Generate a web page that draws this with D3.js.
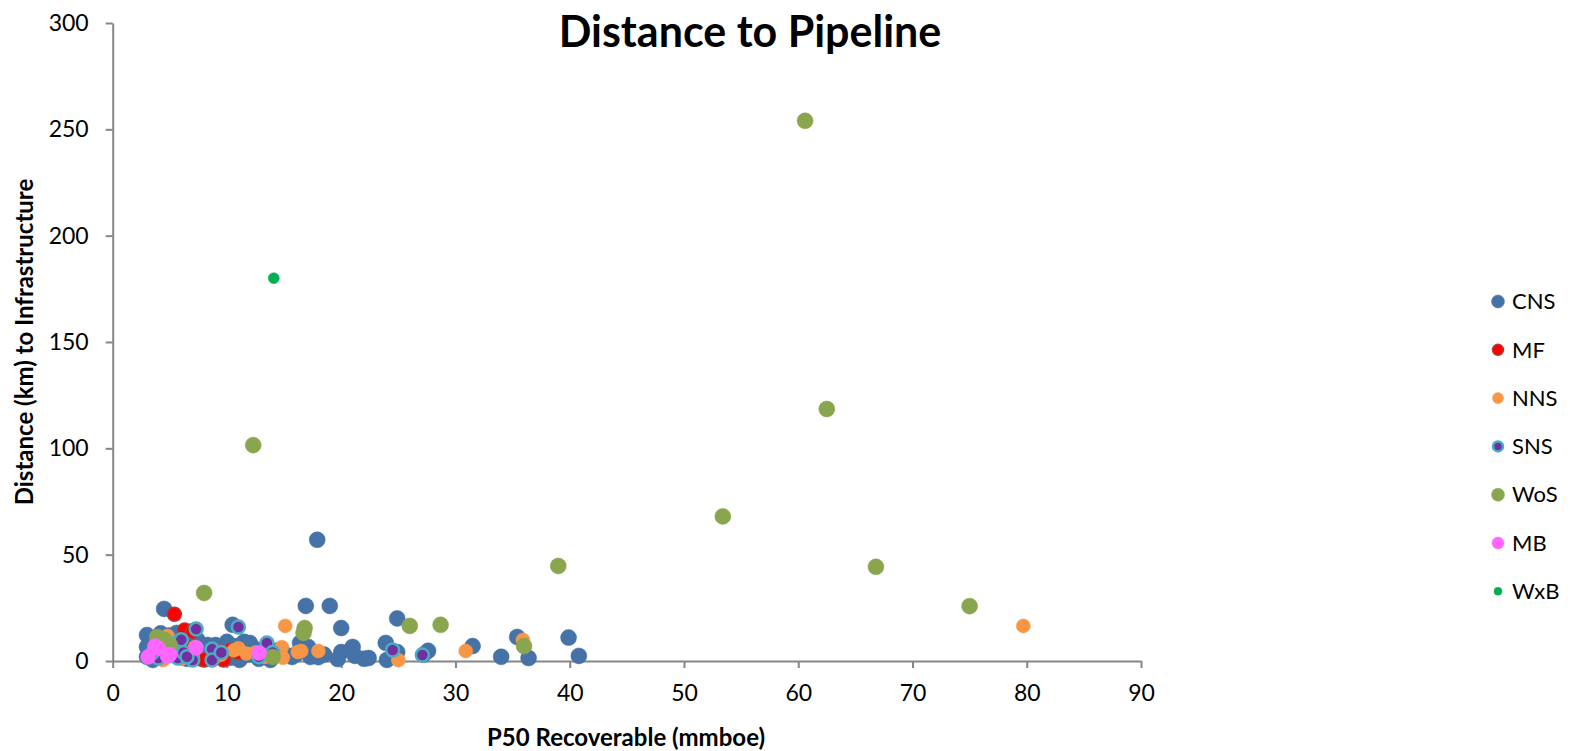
<!DOCTYPE html>
<html>
<head>
<meta charset="utf-8">
<script src="https://cdn.jsdelivr.net/npm/d3@7"></script>
<style>
  body { margin: 0; background: #fff; }
  svg { font-family: Lato, "Open Sans", sans-serif; }
</style>
</head>
<body>
<div id="chart"></div>
<script>
// DATA: [P50 recoverable (mmboe), distance (km)]
// ================================================================== //
const seriesNames = ["CNS", "MF", "NNS", "SNS", "WoS", "MB", "WxB"];

const cns = [
    [17.9, 57], [16.9, 25.9], [19.0, 25.9], [4.5, 24.5], [24.9, 20], [20.0, 15.5],
    [39.9, 11], [35.4, 11.3], [40.8, 2.4], [36.4, 1.4], [34.0, 2.0], [31.5, 7],
    [27.6, 4.8], [27.2, 3.0], [23.9, 8.5], [24.9, 4.2], [24.0, 0.5], [22.4, 1.4],
    [21.0, 6.6], [21.2, 2.4], [20.0, 4.2], [19.7, 0.9], [18.0, 1.8], [16.4, 8.5],
    [17.1, 6.6], [17.3, 1.9], [15.7, 1.9], [15.0, 3.5], [13.8, 0.5], [14.5, 5],
    [13.0, 2], [11.9, 3], [11.1, 0.5], [12.0, 8.5], [11.5, 9], [10.5, 17],
    [10.0, 9], [9.6, 6.6], [9.0, 7.5], [8.5, 3], [7.8, 1], [7.2, 3.5], [6.5, 1],
    [6.0, 4], [5.6, 13.2], [4.9, 12], [3.0, 12.2], [3.0, 6.6], [3.0, 2.0],
    [3.5, 0.5], [4.0, 4], [5.0, 9], [6.2, 8], [7.4, 10], [8.3, 7.5], [7.0, 14],
    [9.3, 2], [10.3, 1.5], [12.5, 5.5], [16.0, 3.0], [18.5, 3], [22.0, 1],
    [10.8, 7], [11.3, 4], [12.8, 1], [8.0, 5], [6.8, 6], [4.2, 13], [5.2, 5.5]
];
const mf = [
    [5.4, 22], [6.3, 14.6], [7.0, 14], [9.4, 4.2], [9.7, 0.5], [10.3, 5],
    [8.0, 0.5], [9.0, 1.9], [11.0, 4], [6.5, 6]
];
const nns = [
    [79.7, 16.5], [35.9, 9.9], [30.9, 4.7], [25.0, 0.4], [15.1, 16.5], [16.5, 4.7],
    [18.0, 4.7], [16.2, 4.2], [14.8, 6.5], [14.9, 1.5], [12.5, 4], [11.7, 3.5],
    [11.0, 6], [10.6, 5], [13.3, 2], [9.5, 3], [8.9, 1.5], [7.0, 2], [4.8, 11.8],
    [4.4, 0.5], [7.2, 6.5], [6.0, 1], [4.2, 8]
];
const sns = [
    [24.5, 5.2], [27.1, 2.8], [7.3, 15], [11.0, 16], [13.5, 8.5], [14.0, 4],
    [8.7, 5.6], [7.0, 0.5], [8.7, 0.5], [5.7, 9], [4.0, 1.4], [5.7, 1.4],
    [6.2, 4], [6.5, 2], [3.5, 4], [12.8, 2], [9.5, 4], [6.0, 10]
];
const wos = [
    [60.6, 254], [62.5, 118.5], [53.4, 68], [39.0, 44.7], [66.8, 44.3], [75.0, 25.8],
    [12.3, 101.5], [8.0, 32], [28.7, 17], [26.0, 16.5], [16.8, 15.5], [16.7, 13.2],
    [36.0, 7.0], [14.0, 1.9], [3.9, 11.3], [5.0, 7.5], [4.5, 10]
];
const mb = [
    [3.7, 7], [3.1, 1.9], [4.8, 2.4], [7.3, 6.2], [12.8, 3.8], [5.0, 3], [4.0, 6]
];
const wxb = [
    [14.1, 180]
];

const xTicks = [0, 10, 20, 30, 40, 50, 60, 70, 80, 90];
const yTicks = [0, 50, 100, 150, 200, 250, 300];
// ================================================================== //

const width = 1571
const height = 751

// marker styles per series (Excel-like)
const styles = {
    CNS: { fill: "#4572A7", stroke: "#4572A7", r: 8, sw: 0.5 },
    MF:  { fill: "#FF0000", stroke: "#B03A35", r: 7, sw: 1.5 },
    NNS: { fill: "#F79646", stroke: "#F79646", r: 7, sw: 0.5 },
    SNS: { fill: "#7030A0", stroke: "#4BACC6", r: 6.5, sw: 2.5 },
    WoS: { fill: "#89A54E", stroke: "#89A54E", r: 8, sw: 0.5 },
    MB:  { fill: "#FF66FF", stroke: "#FF66FF", r: 7.5, sw: 0.5 },
    WxB: { fill: "#00B050", stroke: "#00B050", r: 5.5, sw: 0.5 }
}

const series = [
    { name: "CNS", values: cns },
    { name: "MF", values: mf },
    { name: "NNS", values: nns },
    { name: "SNS", values: sns },
    { name: "WoS", values: wos },
    { name: "MB", values: mb },
    { name: "WxB", values: wxb }
]

const x = d3.scaleLinear()
    .domain([0, 90])
    .range([112.7, 1141])

const y = d3.scaleLinear()
    .domain([0, 300])
    .range([661, 23])

const svg = d3.select("#chart")
    .append("svg")
    .attr("width", width)
    .attr("height", height)
    .attr("viewBox", [0, 0, width, height]);

// axes
const xAxis = g => g
    .attr("transform", `translate(0,${y(0)})`)
    .call(d3.axisBottom(x).tickValues(xTicks).tickSize(7).tickSizeOuter(0).tickPadding(17))
    .call(g => g.select(".domain").attr("stroke", "#868686").attr("stroke-width", 2))
    .call(g => g.selectAll(".tick line").attr("stroke", "#868686").attr("stroke-width", 2))
    .call(g => g.selectAll("text").attr("font-size", 23).attr("fill", "#000").attr("font-family", "Lato, sans-serif"))

const yAxis = g => g
    .attr("transform", `translate(${x(0)},0)`)
    .call(d3.axisLeft(y).tickValues(yTicks).tickSize(7).tickSizeOuter(0).tickPadding(17))
    .call(g => g.select(".domain").attr("stroke", "#868686").attr("stroke-width", 2))
    .call(g => g.selectAll(".tick line").attr("stroke", "#868686").attr("stroke-width", 2))
    .call(g => g.selectAll("text").attr("font-size", 23).attr("fill", "#000").attr("font-family", "Lato, sans-serif"))

svg.append("g").call(yAxis)
svg.append("g").call(xAxis)

// points, drawn in legend order so later series sit on top
const pts = svg.append("g")
series.forEach(s => {
    const st = styles[s.name]
    pts.append("g")
        .selectAll("circle")
        .data(s.values)
        .join("circle")
        .attr("cx", d => x(d[0]))
        .attr("cy", d => y(d[1]))
        .attr("r", st.r)
        .attr("fill", st.fill)
        .attr("stroke", st.stroke)
        .attr("stroke-width", st.sw)
})

// titles
svg.append("text")
    .attr("x", 750)
    .attr("y", 47)
    .attr("text-anchor", "middle")
    .attr("font-size", 43)
    .attr("font-weight", "bold")
    .text("Distance to Pipeline")

svg.append("text")
    .attr("x", 626)
    .attr("y", 746)
    .attr("text-anchor", "middle")
    .attr("font-size", 24)
    .attr("font-weight", "bold")
    .text("P50 Recoverable (mmboe)")

svg.append("text")
    .attr("transform", `translate(33,342) rotate(-90)`)
    .attr("text-anchor", "middle")
    .attr("font-size", 24)
    .attr("font-weight", "bold")
    .text("Distance (km) to Infrastructure")

// legend
const legend = svg.append("g")
    .selectAll("g")
    .data(seriesNames)
    .join("g")
    .attr("transform", (d, i) => `translate(1498,${301.5 + i * 48.3})`)

legend.append("circle")
    .attr("r", d => styles[d].r - 1.5)
    .attr("fill", d => styles[d].fill)
    .attr("stroke", d => styles[d].stroke)
    .attr("stroke-width", d => styles[d].sw)

legend.append("text")
    .attr("x", 14)
    .attr("dy", "0.35em")
    .attr("font-size", 22)
    .text(d => d)
</script>
</body>
</html>
